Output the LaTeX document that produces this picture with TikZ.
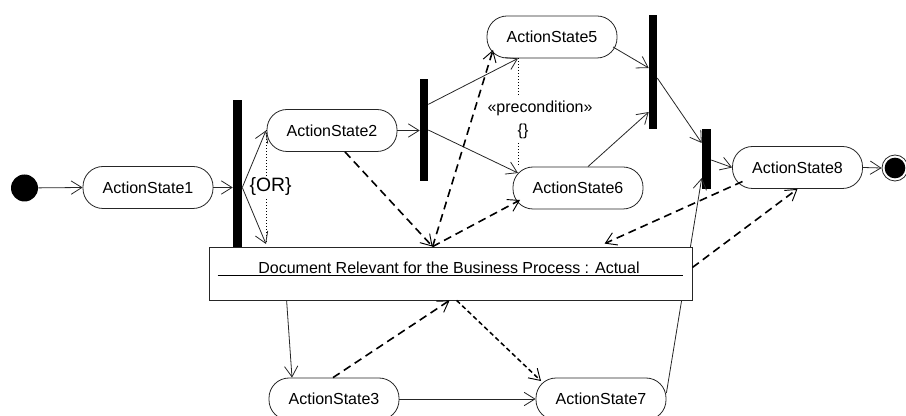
\documentclass[tikz,border=0pt]{standalone}
\usepackage{fontspec}
\setmainfont{Liberation Sans}
\usetikzlibrary{arrows.meta,calc}
\begin{document}
\begin{tikzpicture}[x=0.75pt,y=-0.75pt,
  every node/.style={font=\fontsize{12}{14}\selectfont, text=black},
  act/.style={draw=black!85, line width=0.6pt, rectangle, rounded corners=15pt,
    minimum width=97.5pt, minimum height=31.5pt, inner sep=0pt, fill=white},
  barstyle/.style={fill=black, draw=none, rectangle, inner sep=0pt, minimum width=6.5pt},
  flow/.style={draw=black!85, line width=0.6pt, -{Straight Barb[length=8pt,width=10pt]}},
  dep/.style={draw=black, line width=1.2pt, dash pattern=on 6pt off 3.75pt,
    -{Straight Barb[length=8pt,width=10pt,line width=0.7pt]}},
  depfine/.style={draw=black, line width=1.1pt, dash pattern=on 3.5pt off 2.25pt,
    -{Straight Barb[length=8pt,width=10pt,line width=0.7pt]}},
  dotline/.style={draw=black, line width=0.6pt, dash pattern=on 0.75pt off 1.5pt}
]
\useasboundingbox (0,0) rectangle (906,416);
\clip (0,0) rectangle (906,416);

% nodes
\node[circle, fill=black, minimum size=20.25pt, inner sep=0pt] (init) at (24.5,188) {};
\node[act] (AS1) at (148,187.5) {ActionState1};
\node[barstyle, minimum height=110.25pt, minimum width=6.75pt] (bar1) at (237.5,173.5) {};
\node[act] (AS2) at (332,130.5) {ActionState2};
\node[barstyle, minimum height=76.5pt, minimum width=6pt] (bar2) at (424,130) {};
\node[act] (AS5) at (552,37) {ActionState5};
\node[act] (AS6) at (578,188) {ActionState6};
\node[barstyle, minimum height=85.5pt, minimum width=6pt] (bar3) at (653,72) {};
\node[barstyle, minimum height=45pt, minimum width=6.75pt] (bar4) at (706.5,159) {};
\node[act] (AS8) at (797.5,167.5) {ActionState8};
\node[circle, draw=black!85, line width=0.6pt, minimum size=19.5pt, inner sep=0pt] (final) at (895,168) {};
\node[circle, fill=black, minimum size=15.5pt, inner sep=0pt] (finalin) at (final) {};
\node[act] (AS3) at (334,399) {ActionState3};
\node[act] (AS7) at (601,399) {ActionState7};

% line passing behind the object box
\draw[flow] ($(AS7.east)+(0,-6)$) -- ($(bar4.west)+(0,19)$);

% object box
\node[draw=black!85, line width=0.6pt, fill=white, rectangle, inner sep=0pt,
  minimum width=362.25pt, minimum height=39.75pt] (box) at (450.5,273.5) {};
\node[inner sep=0pt] (boxtext) at (449,268) {Document Relevant for the Business Process : Actual};
\draw[black, line width=0.8pt] ($(box.west)+(9,2)$) -- ($(box.east)+(-9,2)$);

% coordinates
\coordinate (orB) at (266,244);
\coordinate (pA) at ($(AS5.south)+(-34,0)$);
\coordinate (bt) at ($(box.north west)+(224,0)$);
\coordinate (bb) at ($(box.south west)+(241,0)$);

% OR constraint
\draw[dotline] (orB |- AS2.west) -- (orB);
\node[fill=white, inner sep=1pt] (or) at (270.5,187) {\fontsize{14.5}{17}\selectfont\{OR\}};

% precondition
\node (pre) at (540,108) {«precondition»};
\node (brace) at (523,131) {\{\}};
\draw[dotline] (pA) -- (pA |- pre.north);
\draw[dotline] (pA |- brace.south) -- (pA |- AS6.north);

% solid flows
\draw[flow] (init) -- (AS1.west);
\draw[flow] (AS1.east) -- (AS1.east -| bar1.west);
\draw[flow] (AS1.east -| bar1.east) -- (orB |- AS2.west);
\draw[flow] (AS1.east -| bar1.east) -- (orB);
\draw[flow] (AS2.east) -- (AS2.east -| bar2.west);
\draw[flow] ($(bar2.north east)!0.25!(bar2.south east)$) -- (pA);
\draw[flow] (bar2.east) -- ($(AS6.center)+(-60,-15)$);
\draw[flow] ($(AS5.center)+(61,10)$) -- ($(bar3.west)+(0,-4)$);
\draw[flow] ($(AS6.north)+(10,0)$) -- ($(bar3.west)+(0,40)$);
\draw[flow] ($(bar3.east)+(0,6)$) -- ($(bar4.west)+(0,-16)$);
\draw[flow] ($(bar4.east)+(0,1)$) -- (AS8.west);
\draw[flow] (AS8.east) -- (final.west);
\draw[flow] ($(box.south west)+(78,0)$) -- ($(AS3.north)+(-42,0)$);
\draw[flow] (AS3.east) -- (AS7.west);

% dashed object flows
\draw[dep] ($(AS2.south)+(13,0)$) -- (bt);
\draw[dep] (bt) -- ($(AS5.center)+(-59,13)$);
\draw[dep] (bt) -- ($(AS6.center)+(-58,12)$);
\draw[dep] ($(AS8.center)+(-55,14)$) -- ($(box.north west)+(396,-3)$);
\draw[dep] ($(box.east)+(0,-6)$) -- (AS8.south);
\draw[dep] ($(AS3.north)+(-1,0)$) -- (bb);
\draw[depfine] ($(box.south west)+(248,0)$) -- ($(AS7.center)+(-60,-18)$);
\end{tikzpicture}
\end{document}
